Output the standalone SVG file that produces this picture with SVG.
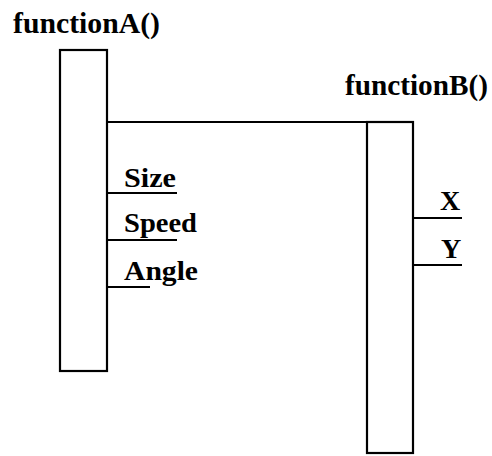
<svg xmlns="http://www.w3.org/2000/svg" width="492" height="456" viewBox="0 0 492 456">
<style>
.box{fill:#fff;stroke:#000;stroke-width:2.2}
.ln{stroke:#000;stroke-width:2.2;fill:none}
.t{font-family:"Liberation Serif","Times New Roman",serif;font-weight:bold;fill:#000}
.title{font-size:29px}
.lbl{font-size:28px}
</style>
<rect width="492" height="456" fill="#fff"/>
<g id="connectors">
<line class="ln" x1="107" y1="122" x2="367" y2="122"/>
</g>
<g id="functionA">
<text class="t title" x="13" y="33" textLength="147" lengthAdjust="spacingAndGlyphs">functionA()</text>
<rect class="box" x="60" y="50" width="47" height="321"/>
<text class="t lbl" x="124" y="187" textLength="52" lengthAdjust="spacingAndGlyphs">Size</text>
<line class="ln" x1="107" y1="193" x2="177" y2="193"/>
<text class="t lbl" x="124" y="232" textLength="73" lengthAdjust="spacingAndGlyphs">Speed</text>
<line class="ln" x1="107" y1="240" x2="177" y2="240"/>
<text class="t lbl" x="124" y="280" textLength="74" lengthAdjust="spacingAndGlyphs">Angle</text>
<line class="ln" x1="107" y1="287" x2="150" y2="287"/>
</g>
<g id="functionB">
<text class="t title" x="345" y="95" textLength="143" lengthAdjust="spacingAndGlyphs">functionB()</text>
<rect class="box" x="367" y="122" width="46" height="331"/>
<text class="t lbl" x="440" y="210">X</text>
<line class="ln" x1="413" y1="218" x2="462" y2="218"/>
<text class="t lbl" x="441" y="258">Y</text>
<line class="ln" x1="413" y1="265" x2="462" y2="265"/>
</g>
</svg>
